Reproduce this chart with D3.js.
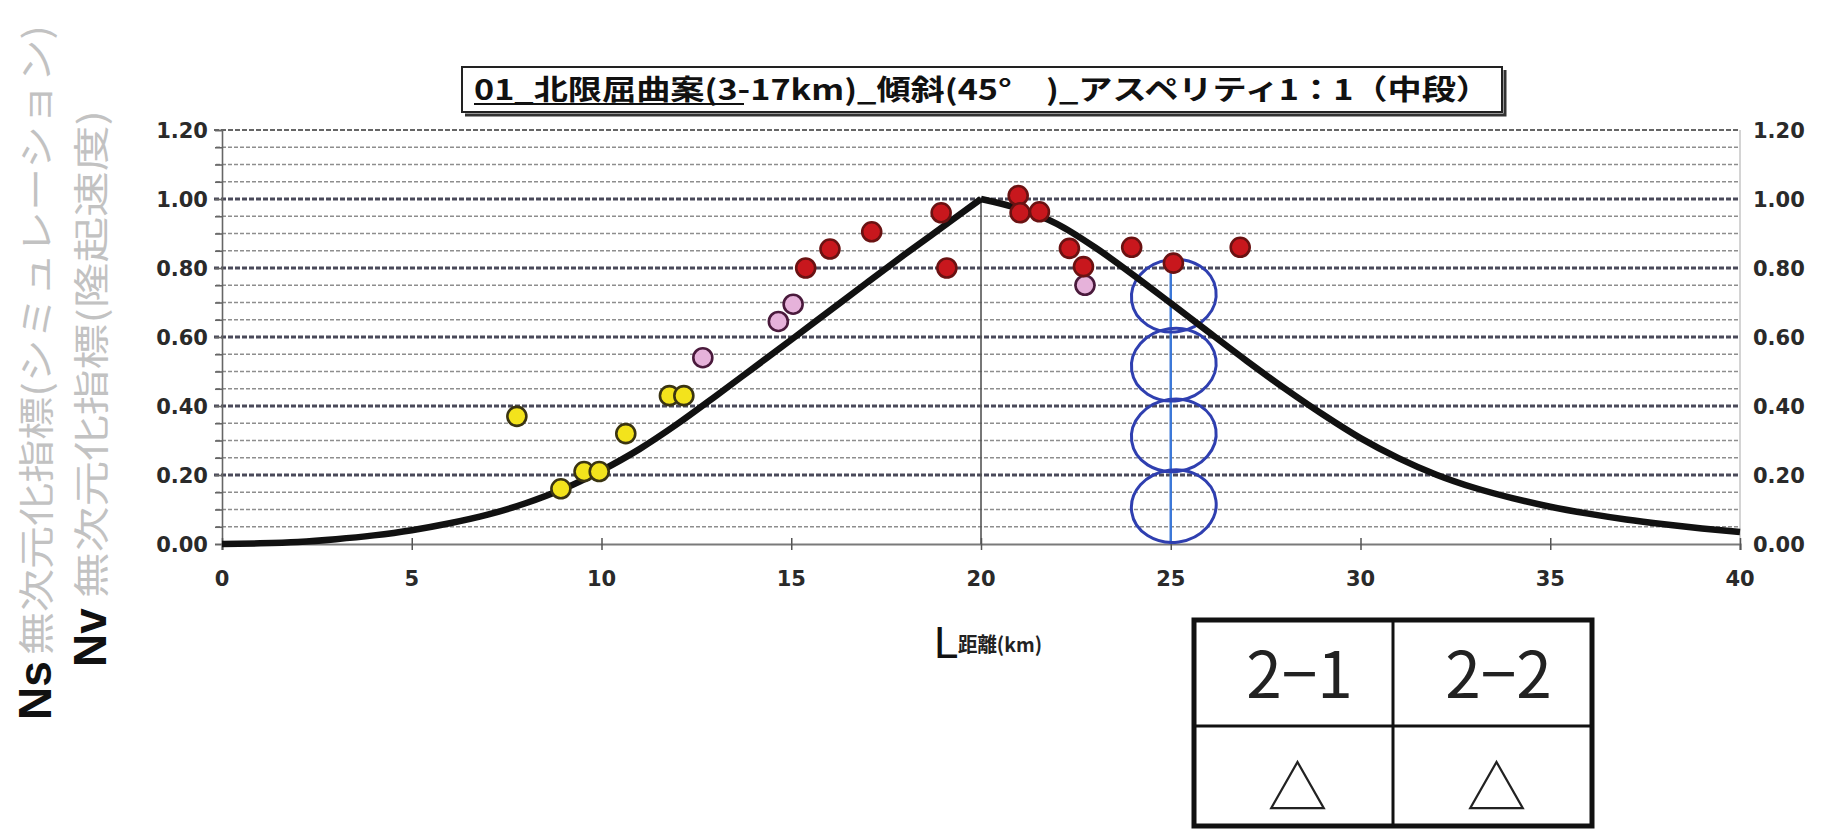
<!DOCTYPE html>
<html><head><meta charset="utf-8">
<script src="https://cdn.jsdelivr.net/npm/d3@7"></script>
<style>html,body{margin:0;padding:0;background:#fff}svg{display:block}</style>
</head><body>
<svg id="c" width="1835" height="836"></svg>
<script>
// ---------- data ----------
const xTickValues = [0, 5, 10, 15, 20, 25, 30, 35, 40];
const yTickValues = [0, 0.2, 0.4, 0.6, 0.8, 1.0, 1.2];
const yTickLabels = ["0.00", "0.20", "0.40", "0.60", "0.80", "1.00", "1.20"];
const minorGrid = [0.05,0.1,0.15,0.25,0.3,0.35,0.45,0.5,0.55,0.65,0.7,0.75,0.85,0.9,0.95,1.05,1.1,1.15];

const curveX = [0,1,2,3,4,5,6,7,8,9,10,11,12,13,14,15,16,17,18,19,20,
                21,22,23,24,25,26,27,28,29,30,31,32,33,34,35,36,37,38,39,40];
const curveY = [0,0.002,0.006,0.014,0.025,0.04,0.06,0.085,0.118,0.16,0.213,0.275,0.348,0.428,0.51,0.592,0.675,0.758,0.84,0.92,1.0,
                0.972,0.928,0.86,0.781,0.698,0.614,0.531,0.451,0.376,0.307,0.249,0.201,0.163,0.133,0.108,0.088,0.071,0.057,0.045,0.035];

const yellowX = [7.77, 8.93, 9.54, 9.94, 10.64, 11.79, 12.17];
const yellowY = [0.37, 0.16, 0.21, 0.21, 0.32, 0.43, 0.43];
const pinkX = [12.67, 14.66, 15.05, 22.74];
const pinkY = [0.54, 0.645, 0.695, 0.75];
const redX = [15.38, 16.02, 17.12, 18.95, 19.1, 20.98, 21.03, 21.54, 22.33, 22.7, 23.97, 25.07, 26.83];
const redY = [0.80, 0.855, 0.905, 0.96, 0.80, 1.01, 0.96, 0.963, 0.857, 0.804, 0.86, 0.814, 0.86];

const loopX = 25;
const loopCenters = [0.11, 0.315, 0.52, 0.72];
const loopHalfHeight = 0.105;
const loopHalfWidth = 1.12;
const loopTop = 0.8;

const titleText = "01_北限屈曲案(3-17km)_傾斜(45°　)_アスペリティ1：1（中段）";
const xTitleL = "L";
const xTitleRest = "距離(km)";
const nsLabel = "Ns", nsText = "無次元化指標(シミュレーション)";
const nvLabel = "Nv", nvText = "無次元化指標(隆起速度)";
const tableHead = ["2−1", "2−2"];
const tableMarks = ["△", "△"];

// ---------- layout ----------
const svg = d3.select("#c");
const L = 222, R = 1740, T = 130, B = 544;
const x = d3.scaleLinear().domain([0, 40]).range([L, R]);
const y = d3.scaleLinear().domain([0, 1.2]).range([B, T]);
const tickFont = "DejaVu Sans, Verdana, sans-serif";

// grid
const g = svg.append("g");
g.selectAll(".minor").data(minorGrid).join("line")
  .attr("x1", L - 6).attr("x2", R).attr("y1", d => y(d)).attr("y2", d => y(d))
  .attr("stroke", "#8e8e8e").attr("stroke-width", 1.5).attr("stroke-dasharray", "4 2");
g.selectAll(".major").data(yTickValues.filter(v => v > 0)).join("line")
  .attr("x1", L - 8).attr("x2", R).attr("y1", d => y(d)).attr("y2", d => y(d))
  .attr("stroke", d => d === 1.2 ? "#666" : "#4a4a5a").attr("stroke-width", d => d === 1.2 ? 1.8 : 2.8)
  .attr("stroke-dasharray", "5 2");

// right border
svg.append("line").attr("x1", R).attr("x2", R).attr("y1", y(1.2)).attr("y2", B)
  .attr("stroke", "#b8b8b8").attr("stroke-width", 1.2);

// left axis with minor ticks
const yAxis = d3.axisLeft(y).tickValues(d3.range(0, 1.2001, 0.05)).tickSize(7).tickFormat("");
const ya = svg.append("g").attr("transform", `translate(${L},0)`).call(yAxis);
ya.selectAll("path,line").attr("stroke", "#666").attr("stroke-width", 1.6);

// x axis
const xAxis = d3.axisBottom(x).tickValues(xTickValues).tickSize(6).tickFormat("");
const xa = svg.append("g").attr("transform", `translate(0,${B})`).call(xAxis);
xa.select("path").attr("stroke", "#7a7a7a").attr("stroke-width", 2.2);
xa.selectAll("line").attr("stroke", "#555").attr("stroke-width", 1.5).attr("y1", -6);

// tick labels
svg.append("g").selectAll("text").data(yTickValues).join("text")
  .attr("x", 208).attr("y", d => y(d) + 8).attr("text-anchor", "end")
  .attr("font-family", tickFont).attr("font-weight", "bold")
  .attr("font-size", 21).attr("fill", "#2a2a2a").text((d, i) => yTickLabels[i]);
svg.append("g").selectAll("text").data(yTickValues).join("text")
  .attr("x", 1753).attr("y", d => y(d) + 8).attr("text-anchor", "start")
  .attr("font-family", tickFont).attr("font-weight", "bold")
  .attr("font-size", 21).attr("fill", "#2a2a2a").text((d, i) => yTickLabels[i]);
svg.append("g").selectAll("text").data(xTickValues).join("text")
  .attr("x", d => x(d)).attr("y", 586).attr("text-anchor", "middle")
  .attr("font-family", tickFont).attr("font-weight", "bold")
  .attr("font-size", 21).attr("fill", "#2a2a2a").text(d => d);

// vertical line at peak
svg.append("line").attr("x1", x(20)).attr("x2", x(20)).attr("y1", B).attr("y2", y(1.0))
  .attr("stroke", "#555").attr("stroke-width", 1.6);

// blue loops
const bl = svg.append("g");
bl.append("line").attr("x1", x(loopX)).attr("x2", x(loopX)).attr("y1", y(0)).attr("y2", y(loopTop))
  .attr("stroke", "#3c78d8").attr("stroke-width", 2.5);
bl.selectAll("ellipse").data(loopCenters).join("ellipse")
  .attr("cx", x(loopX + 0.08)).attr("cy", d => y(d))
  .attr("rx", x(loopX + loopHalfWidth) - x(loopX))
  .attr("ry", y(0) - y(loopHalfHeight))
  .attr("transform", d => `rotate(-8 ${x(loopX + 0.08)} ${y(d)})`)
  .attr("fill", "none").attr("stroke", "#2f3fb0").attr("stroke-width", 3);

// curve (two halves keep the sharp peak)
const pts = curveX.map((v, i) => [v, curveY[i]]);
const line = d3.line().x(d => x(d[0])).y(d => y(d[1])).curve(d3.curveMonotoneX);
[pts.filter(p => p[0] <= 20), pts.filter(p => p[0] >= 20)].forEach(seg => {
  svg.append("path").attr("d", line(seg)).attr("fill", "none")
    .attr("stroke", "#111").attr("stroke-width", 6.5).attr("stroke-linejoin", "round");
});

// points
function dots(xs, ys, fill, stroke) {
  svg.append("g").selectAll("circle").data(xs).join("circle")
    .attr("cx", d => x(d)).attr("cy", (d, i) => y(ys[i])).attr("r", 9.5)
    .attr("fill", fill).attr("stroke", stroke).attr("stroke-width", 2.6);
}
dots(yellowX, yellowY, "#f3e31c", "#3a3412");
dots(pinkX, pinkY, "#e6b2da", "#4a1a3c");
dots(redX, redY, "#c8171d", "#6a1212");

// title box
const tb = svg.append("g");
tb.append("rect").attr("x", 462).attr("y", 67).attr("width", 1040).attr("height", 45)
  .attr("fill", "#fff").attr("stroke", "#222").attr("stroke-width", 2);
tb.append("path").attr("d", "M465,115 H1505 V70").attr("fill", "none").attr("stroke", "#333").attr("stroke-width", 3);
tb.append("text").attr("x", 474).attr("y", 100)
  .attr("font-family", "Noto Sans CJK JP, sans-serif").attr("font-weight", "bold")
  .attr("font-size", 28).attr("fill", "#111")
  .attr("textLength", 1016).attr("lengthAdjust", "spacingAndGlyphs").text(titleText);
tb.append("line").attr("x1", 474).attr("x2", 744).attr("y1", 104).attr("y2", 104)
  .attr("stroke", "#111").attr("stroke-width", 2);

// x axis title
svg.append("text").attr("x", 934).attr("y", 658)
  .attr("font-family", "Liberation Sans, Arial, sans-serif").attr("font-size", 44).attr("fill", "#111")
  .text(xTitleL);
svg.append("text").attr("x", 958).attr("y", 652)
  .attr("font-family", "Noto Sans CJK JP, sans-serif").attr("font-weight", "bold").attr("font-size", 20)
  .attr("fill", "#222").attr("textLength", 84).attr("lengthAdjust", "spacingAndGlyphs").text(xTitleRest);

// left rotated labels
function vlabel(cx, yBottomBig, big, yBottomSmall, yTopSmall, small) {
  svg.append("text").attr("transform", `translate(${cx + 17},${yBottomBig}) rotate(-90)`)
    .attr("font-family", "Liberation Sans, Arial, sans-serif").attr("font-weight", "bold")
    .attr("font-size", 46).attr("fill", "#111").text(big);
  svg.append("text").attr("transform", `translate(${cx + 16},${yBottomSmall}) rotate(-90)`)
    .attr("font-family", "Noto Sans CJK JP, sans-serif").attr("font-size", 36).attr("fill", "#c2c2c2")
    .attr("textLength", yBottomSmall - yTopSmall).attr("lengthAdjust", "spacingAndGlyphs").text(small);
}
vlabel(34, 720, nsLabel, 655, 25, nsText);
vlabel(89, 667, nvLabel, 598, 110, nvText);

// table
const tx0 = 1194, tx1 = 1393, tx2 = 1592, ty0 = 620, ty1 = 726, ty2 = 826;
const tg = svg.append("g");
tg.append("rect").attr("x", tx0).attr("y", ty0).attr("width", tx2 - tx0).attr("height", ty2 - ty0)
  .attr("fill", "#fff").attr("stroke", "#111").attr("stroke-width", 5);
tg.append("line").attr("x1", tx1).attr("x2", tx1).attr("y1", ty0).attr("y2", ty2).attr("stroke", "#111").attr("stroke-width", 3);
tg.append("line").attr("x1", tx0).attr("x2", tx2).attr("y1", ty1).attr("y2", ty1).attr("stroke", "#111").attr("stroke-width", 3);
tg.selectAll(".h").data(tableHead).join("text")
  .attr("x", (d, i) => (i === 0 ? (tx0 + tx1) / 2 : (tx1 + tx2) / 2) + 6).attr("y", 698)
  .attr("text-anchor", "middle").attr("font-family", "Noto Sans CJK JP, sans-serif")
  .attr("font-size", 64).attr("fill", "#222").text(d => d);
tg.selectAll(".m").data(tableMarks).join("text")
  .attr("x", (d, i) => (i === 0 ? (tx0 + tx1) / 2 : (tx1 + tx2) / 2) + 4).attr("y", 810)
  .attr("text-anchor", "middle").attr("font-family", "Noto Sans CJK JP, sans-serif")
  .attr("font-size", 60).attr("fill", "#222").text(d => d);
</script>
</body></html>
